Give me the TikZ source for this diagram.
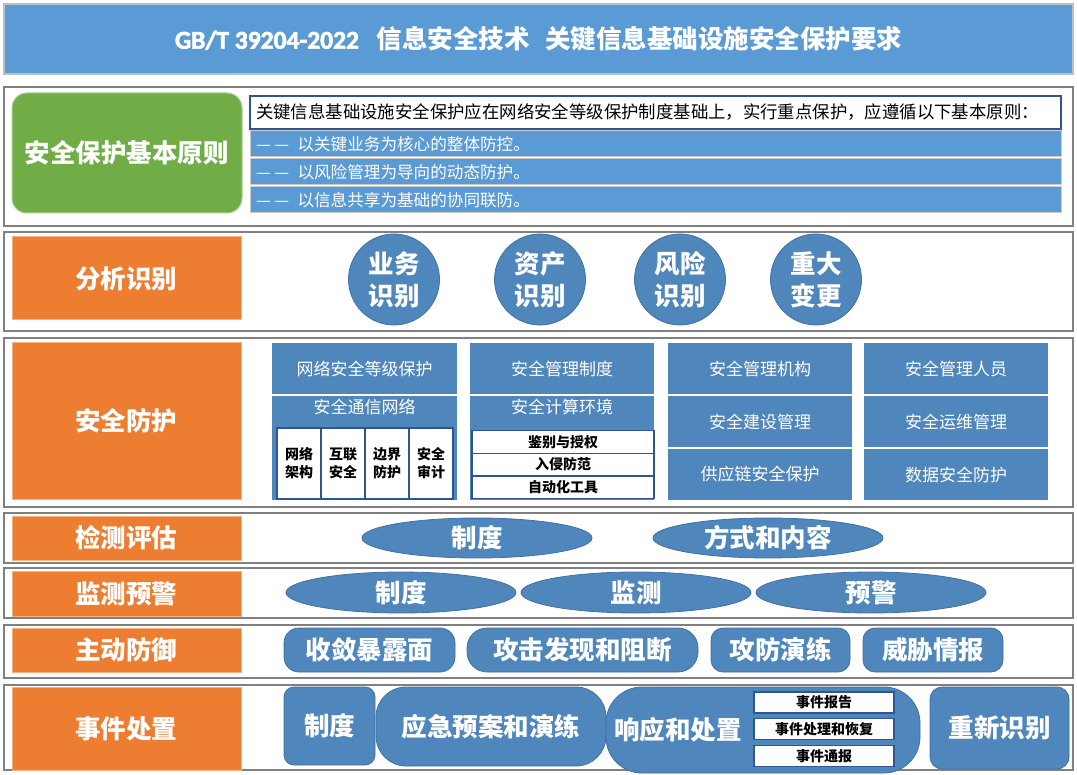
\documentclass[tikz,border=0pt]{standalone}
\usepackage{fontspec}
\setmainfont{Noto Sans CJK SC}
\newfontfamily\latinfont{Carlito}[FakeBold=2.5]
\usepackage{tikz}
\usetikzlibrary{shapes.geometric}

\definecolor{titleblue}{HTML}{5B9BD5}
\definecolor{steel}{RGB}{79,134,188}
\definecolor{sideorange}{HTML}{ED7D31}
\definecolor{leafgreen}{HTML}{70AD47}
\definecolor{framegray}{RGB}{128,128,128}
\definecolor{cellblue}{RGB}{47,85,151}

\newcommand{\labfont}{\bfseries\fontsize{12.75}{16}\selectfont}
\newcommand{\blkfont}{\fontsize{8.5}{10}\selectfont}
\newcommand{\cellfont}{\bfseries\fontsize{7}{9}\selectfont}
\newcommand{\rowfont}{\fontsize{8.3}{10}\selectfont}
\newcommand{\dashpair}{\makebox[1.1em][l]{—}\makebox[1.1em][l]{—}\hspace{0.3em}}

\begin{document}
\begin{tikzpicture}[x=0.5pt,y=-0.5pt,
	rowframe/.style = {draw=framegray,line width=1pt,fill=white,minimum width=534.5pt,inner sep=0pt},
	sidebox/.style = {fill=sideorange,draw=sideorange!60!white,line width=0.5pt,minimum width=114.5pt,inner sep=0pt,text=white,font=\labfont},
	blueblock/.style = {fill=steel,draw=white,line width=0.6pt,minimum width=93pt,minimum height=26.5pt,inner sep=0pt,text=white,font=\blkfont},
	whitecell/.style = {fill=white,draw=cellblue,line width=0.6pt,inner sep=0pt,align=center,font=\cellfont},
	bigoval/.style = {ellipse,fill=steel,draw=steel!85!black,line width=0.4pt,minimum width=115pt,inner sep=0pt,text=white,font=\labfont},
	bigdot/.style = {circle,fill=steel,draw=steel!85!black,line width=0.4pt,minimum size=45.5pt,inner sep=0pt,align=center,text=white,font=\labfont},
	roundbox/.style = {fill=steel,draw=steel!85!black,line width=0.4pt,inner sep=0pt,text=white,font=\labfont},
	rulebar/.style = {fill=titleblue,draw=white!80!black,line width=0.5pt,text width=399.5pt,inner xsep=3pt,inner ysep=0pt,minimum height=13pt,align=left,text=white,font=\rowfont}
	]
	\path[use as bounding box,fill=white] (0,0) rectangle (1077,775);
	%TITLE
	\node[fill=titleblue,draw=white!75!black,line width=0.8pt,minimum width=534.5pt,minimum height=35pt,text=white,font=\labfont] (title) at (538.5,39) {{\latinfont GB/T 39204-2022}\hspace{0.7em}信息安全技术\hspace{0.6em}关键信息基础设施安全保护要求};
	%ROW FRAMES
	\node[rowframe,minimum height=69.5pt] (frame1) at (538.5,156.5) {};
	\node[rowframe,minimum height=49.5pt] (frame2) at (538.5,281.5) {};
	\node[rowframe,minimum height=84.5pt] (frame3) at (538.5,422.5) {};
	\node[rowframe,minimum height=25pt] (frame4) at (538.5,538) {};
	\node[rowframe,minimum height=25pt] (frame5) at (538.5,593) {};
	\node[rowframe,minimum height=26.5pt] (frame6) at (538.5,651.5) {};
	\node[rowframe,minimum height=42.5pt] (frame7) at (538.5,727.5) {};
	%PRINCIPLES
	\node[fill=leafgreen,draw=leafgreen!60!white,line width=0.5pt,rounded corners=7.5pt,minimum width=115pt,minimum height=60pt,text=white,font=\labfont] (principles) at (127,153) {安全保护基本原则};
	\node[fill=white,draw=cellblue,line width=0.6pt,text width=399.5pt,inner xsep=3pt,inner ysep=0pt,minimum height=16.5pt,align=left,font=\fontsize{8.7}{10}\selectfont] (premise) at (655.5,112.5) {关键信息基础设施安全保护应在网络安全等级保护制度基础上，实行重点保护，应遵循以下基本原则：};
	\node[rulebar] (rule1) at (655.5,144) {\dashpair 以关键业务为核心的整体防控。};
	\node[rulebar] (rule2) at (655.5,172) {\dashpair 以风险管理为导向的动态防护。};
	\node[rulebar] (rule3) at (655.5,200) {\dashpair 以信息共享为基础的协同联防。};
	%ANALYSIS
	\node[sidebox,minimum height=41.5pt] (analysis) at (126.5,278.5) {分析识别};
	\node[bigdot] (business) at (394,279.5) {业务\\识别};
	\node[bigdot] (assets) at (540,279.5) {资产\\识别};
	\node[bigdot] (risk) at (680,279.5) {风险\\识别};
	\node[bigdot] (change) at (816,279.5) {重大\\变更};
	%PROTECTION
	\node[sidebox,minimum height=78pt] (protection) at (126.5,421) {安全防护};
	\node[blueblock] (grading) at (364.5,368.5) {网络安全等级保护};
	\node[blueblock,minimum height=53pt] (network) at (364.5,448) {};
	\node[text=white,font=\blkfont,inner sep=0pt] (networklab) at (364.5,407) {安全通信网络};
	\node[whitecell,minimum width=22pt,minimum height=35.5pt] (architecture) at (299,463.5) {网络\\架构};
	\node[whitecell,minimum width=22pt,minimum height=35.5pt] (interconnect) at (343,463.5) {互联\\安全};
	\node[whitecell,minimum width=22pt,minimum height=35.5pt] (boundary) at (387,463.5) {边界\\防护};
	\node[whitecell,minimum width=22pt,minimum height=35.5pt] (audit) at (431,463.5) {安全\\审计};
	\node[blueblock] (policy) at (562,368.5) {安全管理制度};
	\node[blueblock,minimum height=53pt] (computing) at (562,448) {};
	\node[text=white,font=\blkfont,inner sep=0pt] (computinglab) at (562,407) {安全计算环境};
	\node[whitecell,minimum width=91pt,minimum height=11.25pt] (authorize) at (563,442) {鉴别与授权};
	\node[whitecell,minimum width=91pt,minimum height=11.25pt] (intrusion) at (563,464.5) {入侵防范};
	\node[whitecell,minimum width=91pt,minimum height=11.25pt] (automation) at (563,487.5) {自动化工具};
	\node[blueblock] (agency) at (760,368.5) {安全管理机构};
	\node[blueblock] (building) at (760,421.5) {安全建设管理};
	\node[blueblock] (supply) at (760,474.5) {供应链安全保护};
	\node[blueblock] (staff) at (956,368.5) {安全管理人员};
	\node[blueblock] (operation) at (956,421.5) {安全运维管理};
	\node[blueblock] (data) at (956,474.5) {数据安全防护};
	%ASSESSMENT
	\node[sidebox,minimum height=22pt] (assessment) at (126.5,538) {检测评估};
	\node[bigoval,minimum height=20pt] (asrules) at (477,538) {制度};
	\node[bigoval,minimum height=20pt] (asway) at (768,538) {方式和内容};
	%MONITORING
	\node[sidebox,minimum height=22.5pt] (monitoring) at (126.5,593.5) {监测预警};
	\node[bigoval,minimum height=20.5pt] (monrules) at (401,592.5) {制度};
	\node[bigoval,minimum height=20.5pt] (monwatch) at (636,592.5) {监测};
	\node[bigoval,minimum height=20.5pt] (monwarn) at (871,592.5) {预警};
	%ACTIVE DEFENCE
	\node[sidebox,minimum height=22pt] (defence) at (126.5,650) {主动防御};
	\node[roundbox,rounded corners=7.5pt,minimum width=85.5pt,minimum height=22pt] (surface) at (369.5,650) {收敛暴露面};
	\node[roundbox,rounded corners=10pt,minimum width=115.5pt,minimum height=22pt] (attack) at (582.5,650) {攻击发现和阻断};
	\node[roundbox,rounded corners=6pt,minimum width=69.5pt,minimum height=22pt] (drill) at (780.5,650) {攻防演练};
	\node[roundbox,rounded corners=6pt,minimum width=70pt,minimum height=22pt] (intel) at (933,650) {威胁情报};
	%INCIDENT HANDLING
	\node[sidebox,minimum height=41.5pt] (incident) at (126.5,728.5) {事件处置};
	\node[roundbox,rounded corners=5pt,minimum width=45.5pt,minimum height=39pt] (inrules) at (329.5,726) {制度};
	\node[roundbox,rounded corners=15pt,minimum width=115pt,minimum height=39.5pt] (plan) at (491,726.5) {应急预案和演练};
	\node[roundbox,rounded corners=18pt,minimum width=157pt,minimum height=43pt] (response) at (763,730) {};
	\node[text=white,font=\labfont,inner sep=0pt] (responselab) at (678,730) {响应和处置};
	\node[whitecell,minimum width=70pt,minimum height=10.5pt] (report) at (824,702.5) {事件报告};
	\node[whitecell,minimum width=70pt,minimum height=10.75pt] (recover) at (824,729) {事件处理和恢复};
	\node[whitecell,minimum width=70pt,minimum height=10.75pt] (notify) at (824,756) {事件通报};
	\node[roundbox,rounded corners=6pt,minimum width=69.5pt,minimum height=41pt] (reident) at (999.5,728) {重新识别};
\end{tikzpicture}
\end{document}
